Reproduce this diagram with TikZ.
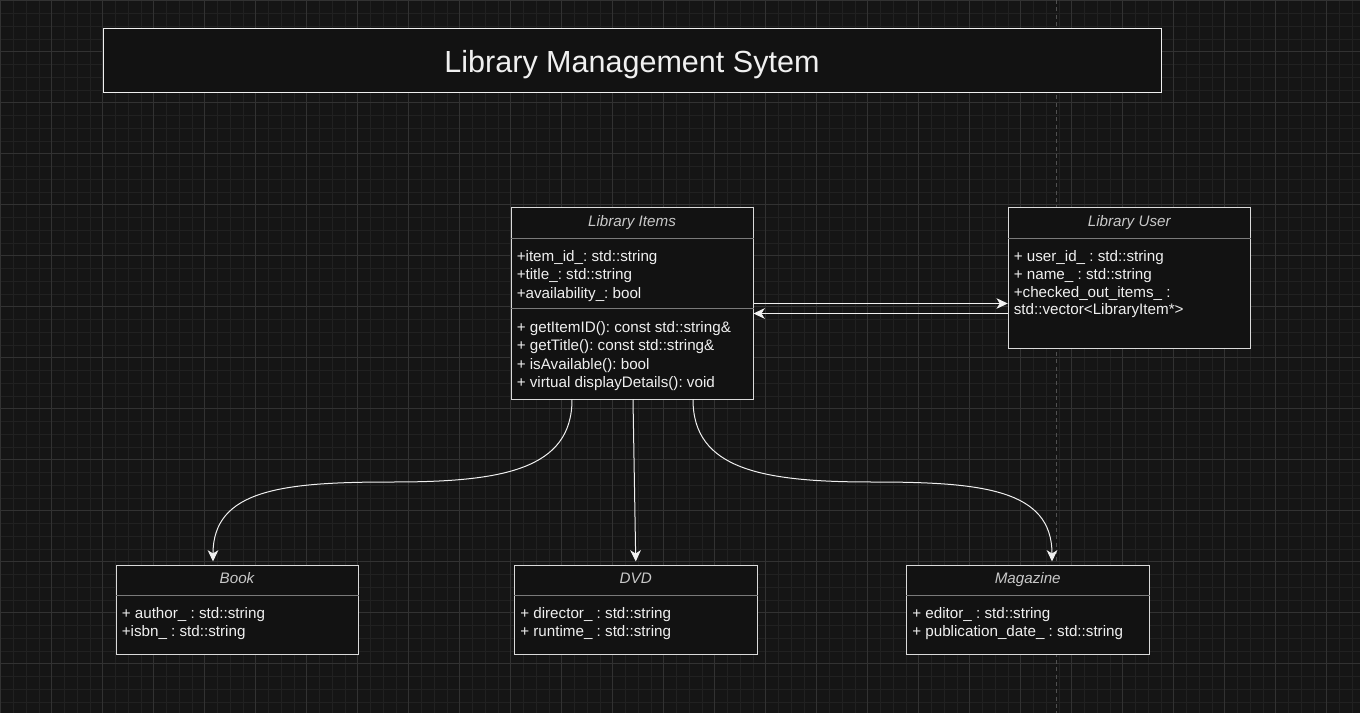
\documentclass[tikz,border=0pt]{standalone}
\usepackage{fontspec}
\setmainfont{Liberation Sans}
\usepackage{tikz}
\usetikzlibrary{arrows.meta,calc}
\frenchspacing

\definecolor{canvas}{HTML}{151515}
\definecolor{boxfill}{HTML}{121212}
\definecolor{minorline}{HTML}{212121}
\definecolor{majorline}{HTML}{323232}
\definecolor{boxline}{HTML}{DADADA}
\definecolor{sepline}{HTML}{7A7A7A}
\definecolor{inktext}{HTML}{F0F0F0}
\definecolor{headtext}{HTML}{C8C8C8}
\definecolor{pageline}{HTML}{505050}

\tikzset{
  minorgrid/.style={draw=minorline, line width=0.75pt},
  majorgrid/.style={draw=majorline, line width=0.75pt},
  classbox/.style 2 args={draw=boxline, fill=boxfill, line width=0.75pt, inner sep=0pt,
    minimum width=#1*0.75pt, minimum height=#2*0.75pt},
  classname/.style={font=\fontsize{11.4}{13}\selectfont\itshape, text=headtext, inner sep=0pt, anchor=base},
  member/.style={font=\fontsize{11.4}{13}\selectfont, text=inktext, inner sep=0pt, anchor=base west},
  divider/.style={draw=sepline, line width=0.75pt},
  link/.style={draw=inktext, line width=0.75pt, -{Stealth[length=8.5pt,width=8pt,inset=2.5pt]}},
}

\begin{document}
\begin{tikzpicture}[x=0.75pt,y=0.75pt,yscale=-1]
\useasboundingbox (0,0) rectangle (1360,713);

%Shape: Grid
\fill[canvas] (0,0) rectangle (1360,713);
\foreach \gx in {0,...,106} \draw[minorgrid] ({0.8+12.75*\gx},0) -- ({0.8+12.75*\gx},713);
\foreach \gy in {0,...,55} \draw[minorgrid] (0,{0.8+12.75*\gy}) -- (1360,{0.8+12.75*\gy});
\foreach \gx in {0,...,26} \draw[majorgrid] ({0.8+51*\gx},0) -- ({0.8+51*\gx},713);
\foreach \gy in {0,...,13} \draw[majorgrid] (0,{0.8+51*\gy}) -- (1360,{0.8+51*\gy});
%Page break
\draw[pageline, line width=0.75pt, dash pattern=on 3pt off 2.5pt] (1056,0) -- (1056,713);

%Shape: Rectangle [title]
\node[classbox={1058}{64}, draw=inktext] (banner) at (632,61) {};
% Text Node
\draw (632,72.7) node [anchor=base, inner sep=0pt, text=inktext, font=\fontsize{22.9}{26}\selectfont] (bannertext) {Library Management Sytem};

%Shape: Rectangle [Library Items]
\node[classbox={242}{191}] (items) at (632,303.5) {};
\draw[divider] ($(items.north west)+(0,31)$) -- ($(items.north east)+(0,31)$);
\draw[divider] ($(items.north west)+(0,101)$) -- ($(items.north east)+(0,101)$);
% Text Node
\draw (632,226) node [classname] (itemsname) {Library Items};
% Text Node
\draw (516.5,261.5) node [member] (itemsid) {+item\_id\_: std::string};
% Text Node
\draw (516.5,279.8) node [member] (itemstitle) {+title\_: std::string};
% Text Node
\draw (516.5,298.1) node [member] (itemsavail) {+availability\_: bool};
% Text Node
\draw (516.5,332.5) node [member] (itemsgetid) {+ getItemID(): const std::string\&};
% Text Node
\draw (516.5,350.8) node [member] (itemsgettitle) {+ getTitle(): const std::string\&};
% Text Node
\draw (516.5,369.1) node [member] (itemsisavail) {+ isAvailable(): bool};
% Text Node
\draw (516.5,387.4) node [member] (itemsdisplay) {+ virtual displayDetails(): void};

%Shape: Rectangle [Library User]
\node[classbox={242}{140}] (user) at (1129.25,278) {};
\draw[divider] ($(user.north west)+(0,31)$) -- ($(user.north east)+(0,31)$);
% Text Node
\draw (1129.25,226) node [classname] (username) {Library User};
% Text Node
\draw (1013.5,261.5) node [member] (userid) {+ user\_id\_ : std::string};
% Text Node
\draw (1013.5,279.8) node [member] (username2) {+ name\_ : std::string};
% Text Node
\draw (1013.5,297.6) node [member] (userchecked) {+checked\_out\_items\_ :};
% Text Node
\draw (1013.5,314.8) node [member] (uservector) {std::vector<LibraryItem*>};

%Shape: Rectangle [Book]
\node[classbox={242}{89}] (book) at (237,609.5) {};
\draw[divider] ($(book.north west)+(0,31)$) -- ($(book.north east)+(0,31)$);
% Text Node
\draw (237,583.3) node [classname] (bookname) {Book};
% Text Node
\draw (121.5,618.3) node [member] (bookauthor) {+ author\_ : std::string};
% Text Node
\draw (121.5,636.3) node [member] (bookisbn) {+isbn\_ : std::string};

%Shape: Rectangle [DVD]
\node[classbox={242.5}{89}] (dvd) at (635.75,609.5) {};
\draw[divider] ($(dvd.north west)+(0,31)$) -- ($(dvd.north east)+(0,31)$);
% Text Node
\draw (635.75,583.3) node [classname] (dvdname) {DVD};
% Text Node
\draw (520,618.3) node [member] (dvddirector) {+ director\_ : std::string};
% Text Node
\draw (520,636.3) node [member] (dvdruntime) {+ runtime\_ : std::string};

%Shape: Rectangle [Magazine]
\node[classbox={242.5}{89}] (magazine) at (1027.75,609.5) {};
\draw[divider] ($(magazine.north west)+(0,31)$) -- ($(magazine.north east)+(0,31)$);
% Text Node
\draw (1027.75,583.3) node [classname] (magazinename) {Magazine};
% Text Node
\draw (912,618.3) node [member] (magazineeditor) {+ editor\_ : std::string};
% Text Node
\draw (912,636.3) node [member] (magazinedate) {+ publication\_date\_ : std::string};

%Connectors
\coordinate (back) at ($(items.east)+(0,10)$);
\draw[link] (items.east) -- (items.east -| user.west);
\draw[link] (back -| user.west) -- (back);

\coordinate (bookbend) at (392.5,482);
\coordinate (magbend) at (872.5,482);
\draw[link] ($(items.south)+(-60,0)$) .. controls +(0,70) and +(110,0) .. (bookbend)
  .. controls +(-110,0) and +(0,-72) .. ($(book.north)+(-24,-3)$);
\draw[link] ($(items.south)+(1,0)$) -- ($(dvd.north)+(0,-3)$);
\draw[link] ($(items.south)+(61,0)$) .. controls +(0,70) and +(-110,0) .. (magbend)
  .. controls +(110,0) and +(0,-72) .. ($(magazine.north)+(24.25,-3)$);
\end{tikzpicture}
\end{document}
